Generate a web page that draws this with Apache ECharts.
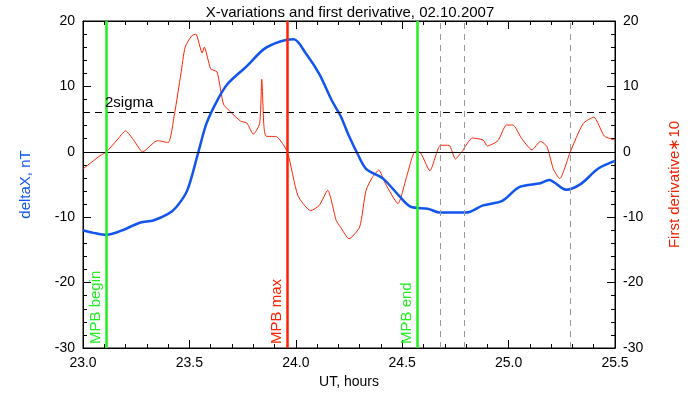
<!DOCTYPE html><html><head><meta charset="utf-8">
<script src="https://cdn.jsdelivr.net/npm/echarts@6/dist/echarts.min.js"></script>
<style>body{margin:0;background:#fff}#c{width:700px;height:400px}</style></head><body><div id="c"></div>
<script>
const deltaX = [[23.0,-12.0],[23.05,-12.4],[23.11,-12.7],[23.2,-11.8],[23.27,-10.8],[23.33,-10.5],[23.4,-9.5],[23.44,-8.4],[23.49,-5.9],[23.54,-0.3],[23.58,4.3],[23.63,7.8],[23.68,10.4],[23.77,13.1],[23.85,15.7],[23.93,16.9],[23.99,17.2],[24.05,14.9],[24.11,11.9],[24.17,7.8],[24.21,5.5],[24.25,2.4],[24.29,-0.3],[24.33,-2.6],[24.41,-4.1],[24.49,-6.9],[24.54,-8.4],[24.62,-8.7],[24.68,-9.3],[24.8,-9.3],[24.88,-8.2],[24.97,-7.5],[25.05,-5.4],[25.15,-4.8],[25.19,-4.3],[25.27,-5.8],[25.34,-4.9],[25.42,-2.6],[25.5,-1.4]];
const deriv = [[23.0,-2.6],[23.08,-0.6],[23.11,0],[23.16,1.8],[23.2,3.2],[23.24,1.7],[23.28,0],[23.35,1.7],[23.4,1.4],[23.43,5.8],[23.46,11.9],[23.48,16],[23.51,17.7],[23.53,18],[23.56,15.1],[23.57,16],[23.6,12.7],[23.63,12.2],[23.66,7.3],[23.69,6.2],[23.74,4.7],[23.77,4.4],[23.8,2.7],[23.83,4.3],[23.84,11.1],[23.85,4],[23.86,2.4],[23.91,2.3],[23.96,0],[24.01,-6.7],[24.07,-9],[24.11,-8.2],[24.15,-5.9],[24.19,-10.5],[24.21,-11.5],[24.25,-13.3],[24.3,-11.5],[24.33,-5.9],[24.36,-3.9],[24.39,-2.8],[24.42,-4.8],[24.48,-7.9],[24.52,-3.9],[24.56,0],[24.58,0],[24.63,-2.9],[24.68,1.0],[24.72,1.0],[24.75,-1.1],[24.78,0],[24.83,2.1],[24.88,1.8],[24.9,0.9],[24.95,1.7],[24.99,4.1],[25.02,4.1],[25.06,2.1],[25.11,0.3],[25.15,1.6],[25.18,0.8],[25.21,-2.6],[25.24,-4.1],[25.29,0],[25.35,4.3],[25.4,5.3],[25.45,2.4],[25.5,1.8]];
const twoSigma = 6.1;
const solidLines = [{x:23.11,name:'MPB begin',color:'#22ee22'},{x:23.963,name:'MPB max',color:'#ff2200'},{x:24.565,name:'MPB end',color:'#22ee22'}];
const dashedLines = [24.685,24.785,25.293];
const F='Liberation Sans, Arial, sans-serif';
const chart = echarts.init(document.getElementById('c'));
const yBase = {type:'value',min:-30,max:20,interval:10,splitLine:{show:false},axisLine:{show:true,lineStyle:{color:'#000'}},axisTick:{inside:true,length:8,lineStyle:{color:'#000'}},minorTick:{show:true,splitNumber:5,length:4,lineStyle:{color:'#000'}},axisLabel:{color:'#000',fontSize:14,fontFamily:F}};
const xBase = {type:'value',min:23,max:25.5,interval:0.5,splitLine:{show:false},axisLine:{onZero:false,lineStyle:{color:'#000'}},axisTick:{inside:true,length:8,lineStyle:{color:'#000'}},minorTick:{show:true,splitNumber:5,length:4,lineStyle:{color:'#000'}}};
chart.setOption({
 animation:false,
 title:{text:'X-variations and first derivative, 02.10.2007',left:'center',top:0,textStyle:{fontSize:15,fontWeight:'normal',fontFamily:F,color:'#000'}},
 grid:{left:83,right:85,top:21,bottom:52,show:true,borderColor:'#000',borderWidth:1},
 xAxis:[Object.assign({},xBase,{name:'UT, hours',nameLocation:'middle',nameGap:25,nameTextStyle:{fontSize:14,fontFamily:F,color:'#000'},axisLabel:{color:'#000',fontSize:14,fontFamily:F,formatter:v=>v.toFixed(1)}}),
  Object.assign({},xBase,{position:'top',axisLabel:{show:false}})],
 yAxis:[Object.assign({},yBase,{name:'deltaX, nT',nameLocation:'middle',nameGap:50,nameTextStyle:{color:'#1155ee',fontSize:15,fontFamily:F}}),
  Object.assign({},yBase,{position:'right',name:'First derivative∗10',nameLocation:'middle',nameRotate:90,nameGap:52,nameTextStyle:{color:'#ee2200',fontSize:15,fontFamily:F}})],
 series:[
  {type:'line',yAxisIndex:1,data:deriv,showSymbol:false,smooth:0.2,lineStyle:{color:'#ff2200',width:1},z:3,
   markLine:{silent:true,symbol:'none',data:[
     {yAxis:0,lineStyle:{color:'#000',type:'solid',width:1},label:{show:false}},
     {yAxis:twoSigma,lineStyle:{color:'#000',type:[7,5],width:1},label:{show:true,position:'insideStartTop',formatter:'2sigma',color:'#000',fontSize:15,fontFamily:F,distance:[22,2]}},
     ...dashedLines.map(x=>({xAxis:x,lineStyle:{color:'#999',type:[6,5],width:1},label:{show:false}})),
     ...solidLines.map(l=>({xAxis:l.x,lineStyle:{color:l.color,type:'solid',width:2.5},label:{show:true,position:'insideStartTop',formatter:l.name,color:l.color,fontSize:15,fontFamily:F,distance:[4,3]}}))
   ]}},
  {type:'line',yAxisIndex:0,data:deltaX,showSymbol:false,smooth:0.3,lineStyle:{color:'#1155ee',width:2.5},z:4}
 ]
});
</script></body></html>
